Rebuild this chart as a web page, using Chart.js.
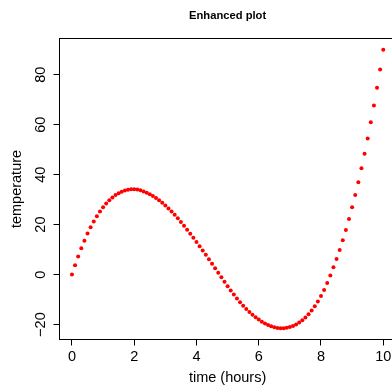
<!DOCTYPE html>
<html>
<head>
<meta charset="utf-8">
<script src="https://cdn.jsdelivr.net/npm/chart.js@4.4.0/dist/chart.umd.min.js"></script>
<style>
html, body { margin: 0; padding: 0; overflow: hidden; background: #fff; }
canvas { display: block; }
</style>
</head>
<body>
<canvas id="tempPlot" width="400" height="387"></canvas>
<script>
const timeHours = [
	0.0, 0.1, 0.2, 0.3, 0.4, 0.5, 0.6, 0.7, 0.8, 0.9,
	1.0, 1.1, 1.2, 1.3, 1.4, 1.5, 1.6, 1.7, 1.8, 1.9,
	2.0, 2.1, 2.2, 2.3, 2.4, 2.5, 2.6, 2.7, 2.8, 2.9,
	3.0, 3.1, 3.2, 3.3, 3.4, 3.5, 3.6, 3.7, 3.8, 3.9,
	4.0, 4.1, 4.2, 4.3, 4.4, 4.5, 4.6, 4.7, 4.8, 4.9,
	5.0, 5.1, 5.2, 5.3, 5.4, 5.5, 5.6, 5.7, 5.8, 5.9,
	6.0, 6.1, 6.2, 6.3, 6.4, 6.5, 6.6, 6.7, 6.8, 6.9,
	7.0, 7.1, 7.2, 7.3, 7.4, 7.5, 7.6, 7.7, 7.8, 7.9,
	8.0, 8.1, 8.2, 8.3, 8.4, 8.5, 8.6, 8.7, 8.8, 8.9,
	9.0, 9.1, 9.2, 9.3, 9.4, 9.5, 9.6, 9.7, 9.8, 9.9,
	10.0,
]
const temperature = [
	0, 3.7, 7.2, 10.5, 13.5, 16.4, 18.9, 21.2, 23.3, 25.2,
	26.9, 28.4, 29.7, 30.8, 31.8, 32.5, 33.1, 33.6, 33.9, 34.1,
	34.1, 34.0, 33.7, 33.2, 32.7, 32.1, 31.4, 30.6, 29.7, 28.7,
	27.6, 26.4, 25.2, 23.9, 22.5, 21.0, 19.5, 17.9, 16.3, 14.7,
	13.0, 11.3, 9.6, 7.9, 6.1, 4.3, 2.5, 0.7, -1.1, -2.9,
	-4.7, -6.4, -8.0, -9.6, -11.1, -12.5, -13.8, -15.0, -16.1, -17.1,
	-18.0, -18.9, -19.6, -20.2, -20.7, -21.1, -21.4, -21.5, -21.5, -21.3,
	-21.0, -20.6, -20.0, -19.2, -18.3, -17.2, -15.9, -14.4, -12.7, -10.8,
	-8.6, -6.2, -3.4, -0.4, 2.9, 6.2, 9.8, 13.7, 17.8, 22.2,
	26.9, 31.8, 37.0, 42.6, 48.4, 54.5, 61.0, 67.7, 74.8, 82.1,
	90.0,
]
const xTicks = [0, 2, 4, 6, 8, 10]
const xTickLabels = ['0', '2', '4', '6', '8', '10']
const yTicks = [-20, 0, 20, 40, 60, 80]
const yTickLabels = ['−20', '0', '20', '40', '60', '80']
const plotTitle = 'Enhanced plot'
const xTitle = 'time (hours)'
const yTitle = 'temperature'

const family = '"Liberation Sans", Arial, Helvetica, sans-serif'

// base graphics pads the data range by 4% on each side
const pad = (lo, hi) => [lo - (hi - lo) * 0.04, hi + (hi - lo) * 0.04]
const [xMin, xMax] = pad(Math.min(...timeHours), Math.max(...timeHours))
const [yMin, yMax] = pad(Math.min(...temperature), Math.max(...temperature))

// box, tick marks and labels drawn the old-school way
const baseAxes = {
	id: 'baseAxes',
	afterDraw(chart) {
		const { ctx, chartArea: a, scales: { x, y } } = chart
		ctx.save()
		ctx.strokeStyle = '#000'
		ctx.fillStyle = '#000'
		ctx.lineWidth = 1
		ctx.strokeRect(a.left, a.top, a.right - a.left, a.bottom - a.top)

		ctx.beginPath()
		xTicks.forEach(v => {
			const px = Math.floor(x.getPixelForValue(v)) + 0.5
			ctx.moveTo(px, a.bottom)
			ctx.lineTo(px, a.bottom + 6)
		})
		yTicks.forEach(v => {
			const py = Math.floor(y.getPixelForValue(v)) + 0.5
			ctx.moveTo(a.left, py)
			ctx.lineTo(a.left - 6, py)
		})
		ctx.stroke()

		ctx.font = '14.5px ' + family
		ctx.textAlign = 'center'
		ctx.textBaseline = 'alphabetic'
		xTicks.forEach((v, i) => ctx.fillText(xTickLabels[i], x.getPixelForValue(v), 361))
		yTicks.forEach((v, i) => {
			ctx.save()
			ctx.translate(45, y.getPixelForValue(v))
			ctx.rotate(-Math.PI / 2)
			ctx.fillText(yTickLabels[i], 0, 0)
			ctx.restore()
		})

		const mid = (a.left + a.right) / 2
		ctx.fillText(xTitle, mid, 381.5)
		ctx.save()
		ctx.translate(20.5, (a.top + a.bottom) / 2)
		ctx.rotate(-Math.PI / 2)
		ctx.fillText(yTitle, 0, 0)
		ctx.restore()

		ctx.font = 'bold 11.2px ' + family
		ctx.fillText(plotTitle, mid, 18.5)
		ctx.restore()
	},
}

new Chart(document.getElementById('tempPlot'), {
	type: 'scatter',
	data: {
		datasets: [
			{
				data: timeHours.map((t, i) => ({ x: t, y: temperature[i] })),
				pointStyle: 'circle',
				pointRadius: 2,
				pointBackgroundColor: '#ff0000',
				pointBorderWidth: 0,
			},
		],
	},
	options: {
		responsive: false,
		animation: false,
		devicePixelRatio: 1,
		layout: { padding: { left: 59.5, top: 38.5, right: 4.3, bottom: 47.5 } },
		plugins: { legend: { display: false }, tooltip: { enabled: false } },
		scales: {
			x: { type: 'linear', min: xMin, max: xMax, display: false },
			y: { type: 'linear', min: yMin, max: yMax, display: false },
		},
	},
	plugins: [baseAxes],
})
</script>
</body>
</html>
